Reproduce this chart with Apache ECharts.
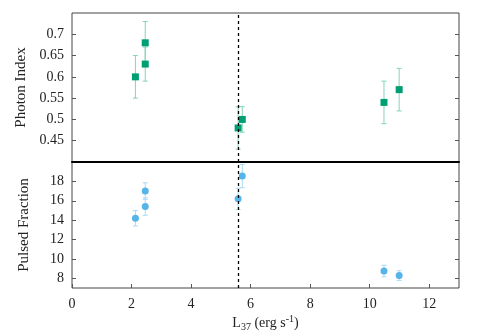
<!DOCTYPE html>
<html><head><meta charset="utf-8">
<script src="https://cdn.jsdelivr.net/npm/echarts@6/dist/echarts.min.js"></script>
<style>html,body{margin:0;padding:0;background:#fff}#c{width:480px;height:336px}</style>
</head><body><div id="c"></div>
<script>
// Photon index panel
const piX = [2.13, 2.46, 2.46, 5.58, 5.72, 10.48, 10.99];
const piY = [0.60, 0.68, 0.63, 0.48, 0.50, 0.54, 0.57];
const piErr = [0.05, 0.05, 0.04, 0.05, 0.03, 0.05, 0.05];
// Pulsed fraction panel
const pfX = [2.13, 2.46, 2.46, 5.58, 5.72, 10.48, 10.99];
const pfY = [14.2, 17.0, 15.4, 16.2, 18.55, 8.75, 8.28];
const pfErr = [0.8, 0.85, 0.9, 1.1, 1.2, 0.6, 0.5];
const vLineX = 5.58;
const xTicks = [0, 2, 4, 6, 8, 10, 12];
const piTicks = [0.45, 0.5, 0.55, 0.6, 0.65, 0.7];
const pfTicks = [8, 10, 12, 14, 16, 18];

const FONT = 'Liberation Serif';
const chart = echarts.init(document.getElementById('c'));

function errSeries(xs, ys, es, gi, color) {
  return {
    type: 'custom', xAxisIndex: gi, yAxisIndex: gi * 2, z: 1,
    data: xs.map((x, i) => [x, ys[i] - es[i], ys[i] + es[i]]),
    renderItem: function (params, api) {
      const lo = api.coord([api.value(0), api.value(1)]);
      const hi = api.coord([api.value(0), api.value(2)]);
      const w = 2.5;
      const st = { stroke: color, lineWidth: 1 };
      return { type: 'group', children: [
        { type: 'line', shape: { x1: lo[0], y1: lo[1], x2: hi[0], y2: hi[1] }, style: st },
        { type: 'line', shape: { x1: lo[0] - w, y1: lo[1], x2: lo[0] + w, y2: lo[1] }, style: st },
        { type: 'line', shape: { x1: hi[0] - w, y1: hi[1], x2: hi[0] + w, y2: hi[1] }, style: st }
      ]};
    }
  };
}

const labelStyle = { fontFamily: FONT, fontSize: 14, color: '#222' };

function yAx(gi, min, max, ticks, name, right) {
  return {
    type: 'value', gridIndex: gi, min: min, max: max, position: right ? 'right' : 'left',
    name: right ? '' : name, nameLocation: 'middle', nameGap: 40,
    nameTextStyle: { fontFamily: FONT, fontSize: 15, color: '#222' },
    axisLine: { show: false },
    axisTick: { show: true, inside: true, length: 4, lineStyle: { color: '#555' }, customValues: ticks },
    axisLabel: right ? { show: false } : Object.assign({ margin: 8, customValues: ticks,
      formatter: v => String(v) }, labelStyle),
    splitLine: { show: false }
  };
}

chart.setOption({
  animation: false,
  grid: [
    { left: 72, right: 21, top: 13, height: 149, show: true, borderColor: '#444', borderWidth: 1 },
    { left: 72, right: 21, top: 162, bottom: 48, show: true, borderColor: '#444', borderWidth: 1 }
  ],
  xAxis: [
    { type: 'value', gridIndex: 0, min: 0, max: 13, interval: 2,
      axisLine: { show: true, onZero: false, lineStyle: { color: '#000', width: 2 } },
      axisTick: { show: false }, axisLabel: { show: false }, splitLine: { show: false } },
    { type: 'value', gridIndex: 1, min: 0, max: 13, interval: 2,
      name: '{a|L}{sub|37}{a| (erg s}{sup|-1}{a|)}', nameLocation: 'middle', nameGap: 26,
      nameTextStyle: { rich: {
        a: { fontFamily: FONT, fontSize: 14, color: '#222', lineHeight: 18, verticalAlign: 'middle' },
        sub: { fontFamily: FONT, fontSize: 10, color: '#222', lineHeight: 18, verticalAlign: 'bottom' },
        sup: { fontFamily: FONT, fontSize: 10, color: '#222', lineHeight: 18, verticalAlign: 'top' }
      } },
      axisLine: { show: false },
      axisTick: { show: true, inside: true, length: 4, lineStyle: { color: '#555' }, customValues: xTicks },
      axisLabel: Object.assign({ margin: 9, customValues: xTicks }, labelStyle), splitLine: { show: false } }
  ],
  yAxis: [
    yAx(0, 0.4, 0.75, piTicks, 'Photon Index', false),
    yAx(0, 0.4, 0.75, piTicks, '', true),
    yAx(1, 7, 20, pfTicks, 'Pulsed Fraction', false),
    yAx(1, 7, 20, pfTicks, '', true)
  ],
  series: [
    errSeries(piX, piY, piErr, 0, '#86d3b8'),
    { type: 'scatter', xAxisIndex: 0, yAxisIndex: 0, z: 3, symbol: 'rect', symbolSize: 7,
      itemStyle: { color: '#009e73', opacity: 1 }, data: piX.map((x, i) => [x, piY[i]]),
      markLine: { silent: true, symbol: 'none', label: { show: false },
        lineStyle: { color: '#000', type: [3, 3], width: 1.3 }, data: [{ xAxis: vLineX }] } },
    errSeries(pfX, pfY, pfErr, 1, '#a9dbf5'),
    { type: 'scatter', xAxisIndex: 1, yAxisIndex: 2, z: 3, symbol: 'circle', symbolSize: 7,
      itemStyle: { color: '#56b4e9', opacity: 1 }, data: pfX.map((x, i) => [x, pfY[i]]),
      markLine: { silent: true, symbol: 'none', label: { show: false },
        lineStyle: { color: '#000', type: [3, 3], width: 1.3 }, data: [{ xAxis: vLineX }] } }
  ]
});
</script></body></html>
